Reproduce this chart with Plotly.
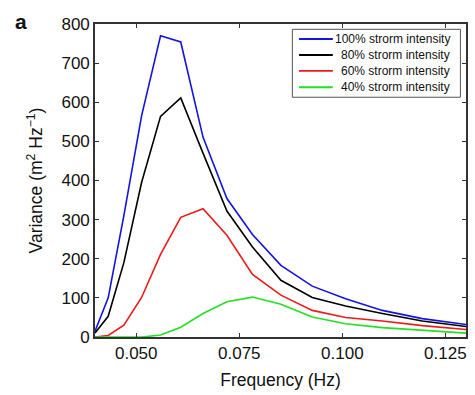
import plotly.graph_objects as go

freq = [0.0400, 0.0432, 0.0470, 0.0513, 0.0559, 0.0608, 0.0662, 0.0720,
        0.0782, 0.0851, 0.0927, 0.1008, 0.1097, 0.1194, 0.1300]
var_100 = [15, 100, 310, 565, 770, 754, 511, 354, 262, 183, 130, 98, 68, 47, 32]
var_80 = [10, 53, 190, 395, 564, 611, 470, 322, 230, 145, 101, 79, 60, 41, 27]
var_60 = [0, 4, 30, 101, 211, 306, 328, 260, 160, 107, 68, 50, 41, 29, 19]
var_40 = [0, 0, 0, 0, 5, 25, 60, 90, 102, 84, 51, 34, 24, 17, 10]

names = ["100% strorm intensity", "80% strorm intensity",
         "60% strorm intensity", "40% strorm intensity"]
colors = ["#1414dc", "#000000", "#ee1a1a", "#22e022"]
series = [var_100, var_80, var_60, var_40]

x_ticks = [0.050, 0.075, 0.100, 0.125]
y_ticks = [0, 100, 200, 300, 400, 500, 600, 700, 800]

font_family = "Arial, Liberation Sans, Helvetica, sans-serif"

fig = go.Figure()
for name, col, vals in zip(names, colors, series):
    fig.add_trace(go.Scatter(x=freq, y=vals, mode="lines", name=name,
                             line=dict(color=col, width=1.6), showlegend=False))

axis_common = dict(showline=True, linecolor="#333333", linewidth=1.6, mirror="ticks",
                   ticks="inside", ticklen=4, tickcolor="#333333", tickwidth=1,
                   showgrid=False, zeroline=False,
                   tickfont=dict(size=17, color="#111111", family=font_family))

fig.update_xaxes(range=[0.040, 0.130], tickvals=x_ticks,
                 ticktext=[f"{v:.3f}" for v in x_ticks],
                 title=dict(text="Frequency (Hz)", font=dict(size=17.5, color="#111111"), standoff=12),
                 **axis_common)
fig.update_yaxes(range=[0, 800], tickvals=y_ticks,
                 title=dict(text="Variance (m<sup>2</sup> Hz<sup>\u22121</sup>)",
                            font=dict(size=17.5, color="#111111"), standoff=14),
                 **axis_common)

fig.update_layout(
    width=475, height=395,
    margin=dict(l=95, r=7, t=24, b=58),
    paper_bgcolor="white", plot_bgcolor="white",
    font=dict(family=font_family, color="#111111"),
)

# manual legend (box, line samples, right-aligned labels)
box = dict(x0=0.532, x1=0.985, y0=0.766, y1=0.983)
fig.add_shape(type="rect", xref="paper", yref="paper", **box,
              line=dict(color="#555555", width=1), fillcolor="white", layer="above")
row_y = [0.952, 0.901, 0.850, 0.798]
for name, col, yy in zip(names, colors, row_y):
    fig.add_shape(type="line", xref="paper", yref="paper", x0=0.550, x1=0.641,
                  y0=yy, y1=yy, line=dict(color=col, width=1.8), layer="above")
    fig.add_annotation(text=name, xref="paper", yref="paper", x=0.963, y=yy,
                       xanchor="right", yanchor="middle", showarrow=False,
                       font=dict(size=12, color="#111111"))

fig.add_annotation(text="<b>a</b>", xref="paper", yref="paper",
                   x=-0.222, y=1.05, xanchor="left", yanchor="top",
                   showarrow=False, font=dict(size=21, color="#111111"))

fig.write_html("out.html")
